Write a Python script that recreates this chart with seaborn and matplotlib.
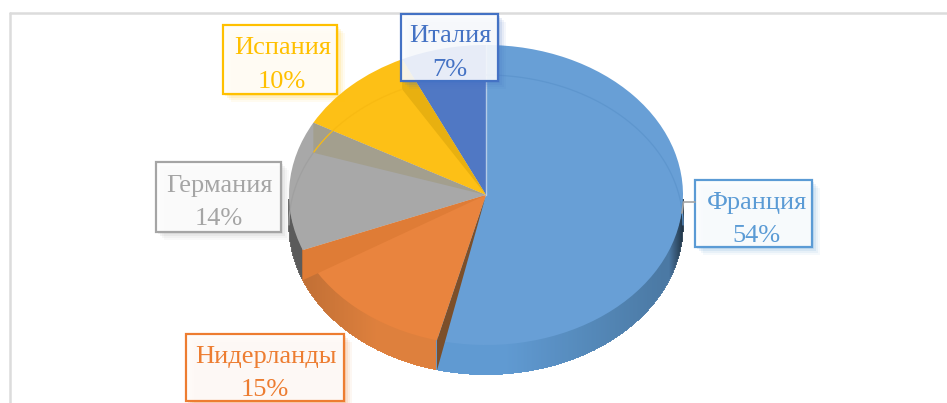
import numpy as np
import matplotlib.pyplot as plt
import seaborn as sns
from matplotlib.patches import Rectangle, Polygon

# data
countries = ["Франция", "Нидерланды", "Германия", "Испания", "Италия"]
shares = [54, 15, 14, 10, 7]
pct_labels = ["54%", "15%", "14%", "10%", "7%"]
top_colors = ["#689FD6", "#E9843E", "#A8A8A8", "#FDC016", "#5078C4"]
side_colors = ["#5F9AD2", "#DE7F3C", "#6A6A6A", "#C89A10", "#3F5F9C"]
line_colors = ["#5B9BD5", "#ED7D31", "#A5A5A5", "#FFC000", "#4472C4"]

sns.set_theme(style="white")
plt.rcParams['font.family'] = ['Liberation Serif', 'DejaVu Sans']

W, H = 947, 403
fig = plt.figure(figsize=(W / 100, H / 100), dpi=100, facecolor="white")

# overlay in pixel coords for the frame
bg = fig.add_axes([0, 0, 1, 1], zorder=0)
bg.set_xlim(0, W)
bg.set_ylim(H, 0)
bg.axis("off")
bg.plot([10, 947], [13, 13], color="#DCDCDC", lw=1.8)
bg.plot([10, 10], [13, 403], color="#DCDCDC", lw=1.8)

# pie axes: unit circle squashed to an ellipse
px_l, px_r, px_t, px_b = 289, 683, 45, 345
ax = fig.add_axes([px_l / W, 1 - px_b / H, (px_r - px_l) / W, (px_b - px_t) / H], zorder=1)
ax.patch.set_alpha(0)
depth = 0.2

palette = sns.color_palette(top_colors)
ends = np.cumsum(shares) / np.sum(shares) * 360
starts = ends - np.array(shares) / np.sum(shares) * 360

# side of the pie, one thin vertical strip per pixel column
xs = np.linspace(-0.999, 0.999, 395)
ys = -np.sqrt(1 - xs ** 2)
angles = np.degrees(np.arctan2(xs, ys)) % 360
slice_idx = np.searchsorted(ends, angles)
strip_cols = []
for x, i in zip(xs, slice_idx):
    base = np.array(sns.color_palette([side_colors[i]])[0])
    if i == 0:
        # France gets darker toward the right edge
        shade = 1 - 0.22 * np.clip((x - 0.1) / 0.8, 0, 1) - 0.45 * np.clip((x - 0.93) / 0.07, 0, 1)
    elif i == 1:
        # Netherlands goes brownish on the left
        shade = 1 - 0.14 * np.clip((-0.55 - x) / 0.4, 0, 1)
    else:
        shade = 0.85
    strip_cols.append(tuple(base * shade))
ax.vlines(xs, ys - depth, ys + 0.02, colors=strip_cols, lw=1.3, clip_on=False, zorder=0.5)

# top surface
wedges, _ = ax.pie(shares, colors=palette, startangle=90, counterclock=False, radius=1,
                   wedgeprops={"linewidth": 0})
for w in wedges:
    w.set_clip_on(False)

# inner walls seen along the cuts
rim_x, rim_y = np.sin(np.radians(ends)), np.cos(np.radians(ends))
walls = [(2, "#A39F8E"), (1, "#DF7C36"), (3, "#E8B010")]
for i, col in walls:
    ax.add_patch(Polygon([(0, 0), (rim_x[i], rim_y[i]), (rim_x[i], rim_y[i] - depth)],
                         closed=True, facecolor=col, edgecolor="none", clip_on=False))
# cut between France and the Netherlands
ax.add_patch(Polygon([(0, 0), (rim_x[0], rim_y[0]), (rim_x[0], rim_y[0] - depth)],
                     closed=True, facecolor="#7C4F2A", edgecolor="none", clip_on=False))
ax.plot([0, 0], [0, 1], color="#B5CCE6", lw=1, clip_on=False)

# bottom rim showing faintly through the top surface
for i, col in [(0, "#5E96CE"), (3, "#F8BA12"), (2, "#A0A0A0")]:
    t = np.radians(np.linspace(max(starts[i], 270 if i == 2 else starts[i]),
                               min(ends[i], 90 if i == 0 else ends[i]), 60))
    ax.plot(np.sin(t), np.cos(t) - depth, color=col, lw=0.9, clip_on=False)

ax.set_aspect("auto")
ax.set_xlim(-1, 1)
ax.set_ylim(-1, 1)
ax.axis("off")

# labels
fg = fig.add_axes([0, 0, 1, 1], zorder=2)
fg.set_xlim(0, W)
fg.set_ylim(H, 0)
fg.axis("off")
fg.patch.set_alpha(0)

# x0, y0, x1, y1 of each label box, then text nudge in x
boxes = [(695, 180, 812, 247), (186, 334, 344, 401), (156, 162, 281, 232),
         (223, 25, 337, 94), (401, 14, 498, 81)]
nudges = [3, 0, 0, 2, 0]

fg.plot([682, 683.5, 695], [213, 202, 202], color="#A5A5A5", lw=1.2)
for name, pct, col, (x0, y0, x1, y1), dx in zip(countries, pct_labels, line_colors, boxes, nudges):
    for off, a in [(8, 0.06), (6, 0.08), (4, 0.12), (2, 0.15)]:
        fg.add_patch(Rectangle((x0 + off, y0 + off), x1 - x0, y1 - y0, facecolor=col,
                               alpha=a, edgecolor="none"))
    fg.add_patch(Rectangle((x0, y0), x1 - x0, y1 - y0, facecolor="white", alpha=0.87,
                           edgecolor="none"))
    fg.add_patch(Rectangle((x0, y0), x1 - x0, y1 - y0, facecolor="none", edgecolor=col, lw=1.6))
    cx = (x0 + x1) / 2
    cy = (y0 + y1) / 2
    fg.text(cx + 1 + dx, cy - 11, name, color=col, fontsize=19, ha="center", va="center")
    fg.text(cx + dx, cy + 22, pct, color=col, fontsize=19, ha="center", va="center")

plt.savefig("out.png", dpi=100)
